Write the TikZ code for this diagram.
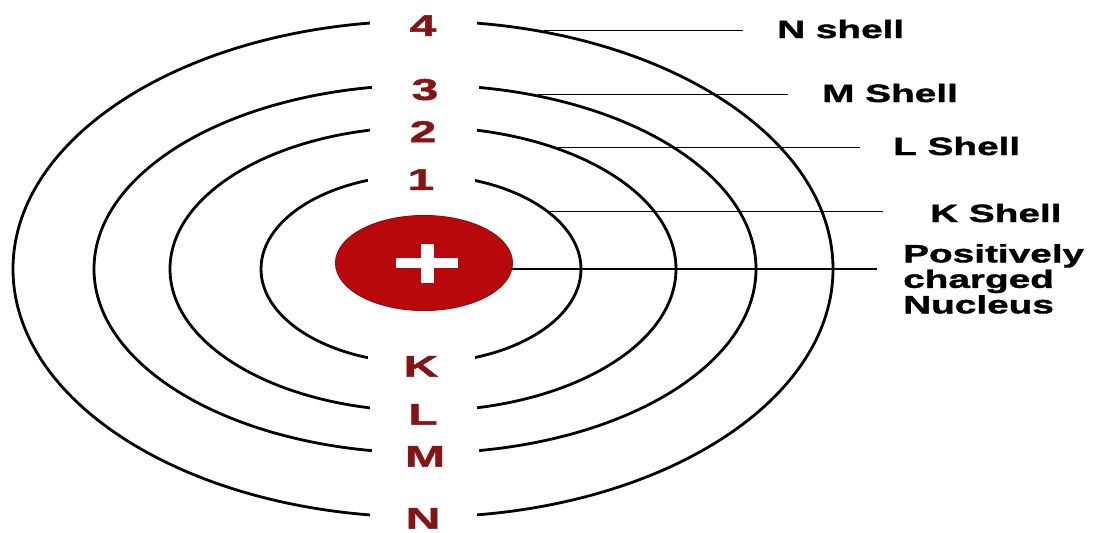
\documentclass[tikz,border=0pt]{standalone}
\usepackage{fontspec}
\usepackage{tikz}
\usetikzlibrary{shapes.geometric, positioning}
\setmainfont{Liberation Sans}
\newfontfamily\shellfont{Liberation Sans Bold}[FakeStretch=1.55, FakeBold=1.5]
\newfontfamily\numfont{Liberation Sans Bold}[FakeStretch=1.6, FakeBold=1.5]
\definecolor{shellred}{RGB}{135, 20, 20}
\definecolor{nucleusred}{RGB}{185, 8, 12}
\definecolor{nucleusedge}{RGB}{150, 10, 10}
\tikzset{
  ring/.style={ellipse, draw=black, line width=2.8pt, inner sep=0pt},
  nucleus/.style={ellipse, fill=nucleusred, draw=nucleusedge, line width=1pt,
    inner sep=0pt, minimum width=177pt, minimum height=95pt},
  shelltag/.style={fill=white, text=shellred, minimum width=107pt,
    minimum height=22pt, inner sep=0pt,
    font=\numfont\fontsize{30}{30}\selectfont},
  toptag/.style={shelltag, yshift=-6pt},
  bottag/.style={shelltag, yshift=-2pt},
  leader/.style={black, line width=1.5pt},
  shellname/.style={anchor=base west, inner ysep=0pt,
    font=\shellfont\fontsize{25}{25.5}\selectfont}
}

\begin{document}
\begin{tikzpicture}[x=1pt, y=-1pt]
\fill[white] (0,0) rectangle (1093,533);
\useasboundingbox (0,0) rectangle (1093,533);

% shells, outermost first
\node (nring) [ring, minimum width=820pt, minimum height=496pt] at (423,269) {};
\node (mring) [ring, minimum width=662pt, minimum height=368pt] at (425,269) {};
\node (lring) [ring, minimum width=506pt, minimum height=284pt] at (423,269) {};
\node (kring) [ring, minimum width=320pt, minimum height=188pt] at (421,269) {};

% nucleus
\node (nuc) [nucleus] at (424,263) {};
\begin{scope}[shift={(nuc.center)}]
  \fill[white] (-28,-5) rectangle (34,5);
  \fill[white] (-3.5,-19.5) rectangle (9.5,19.5);
\end{scope}

% numbers and letters in the gaps
\node (four)  [toptag] at (nring.north) {4};
\node (three) [toptag] at (mring.north) {3};
\node (two)   [toptag] at (lring.north) {2};
\node (one)   [toptag] at (kring.north) {1};
\node (ktag)  [bottag] at (kring.south) {K};
\node (ltag)  [bottag] at (lring.south) {L};
\node (mtag)  [bottag] at (mring.south) {M};
\node (ntag)  [shelltag] at (nring.south) {N};

% names on the right
\node (nname) [shellname, inner xsep=34pt] at (743,38)  {N shell};
\node (mname) [shellname, inner xsep=34pt] at (788,102) {M Shell};
\node (lname) [shellname, inner xsep=33pt] at (860,155) {L Shell};
\node (kname) [shellname, inner xsep=47pt] at (883,222) {K Shell};
\node (nuclab) [anchor=north west, inner xsep=26pt, inner ysep=0pt, align=left,
  font=\shellfont\fontsize{25}{25.5}\selectfont] at (877,244)
  {Positively\\charged\\Nucleus};

\draw[leader] (nring.63) -- (nring.63 -| nname.west);
\draw[leader] (mring.57) -- (mring.57 -| mname.west);
\draw[leader] (lring.42) -- (lring.42 -| lname.west);
\draw[leader] (kring.24) -- (kring.24 -| kname.west);
\draw[leader] (nuc.-4)   -- (nuc.-4 -| nuclab.west);
\end{tikzpicture}
\end{document}
